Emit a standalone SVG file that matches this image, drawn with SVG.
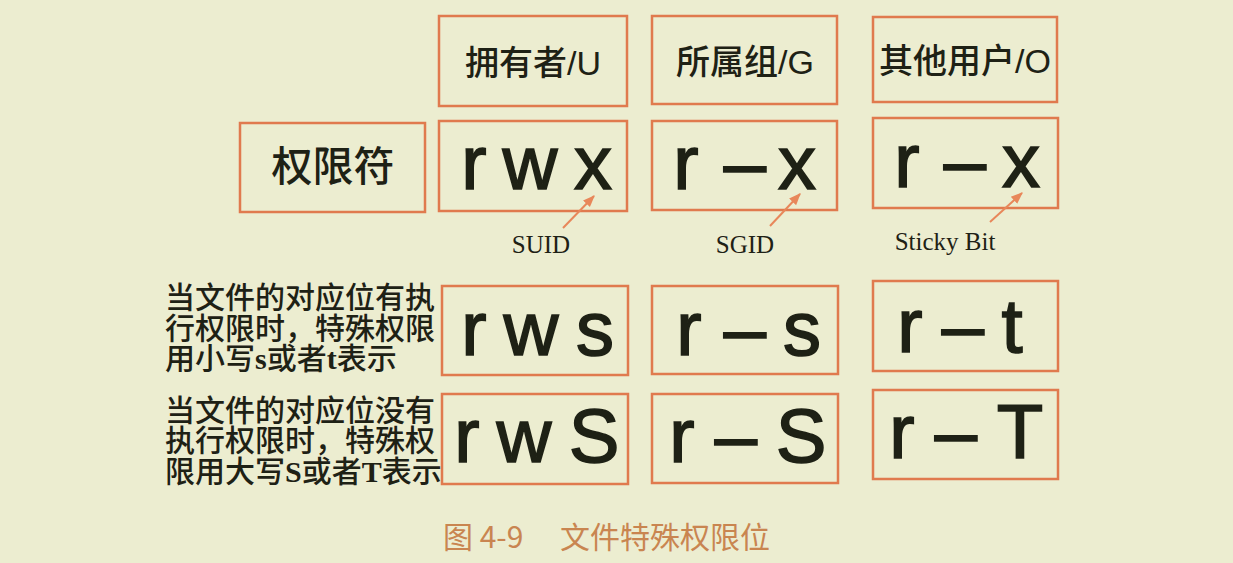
<svg xmlns="http://www.w3.org/2000/svg" width="1233" height="563" viewBox="0 0 1233 563">
<defs>
<style>
.bg{fill:#ECEDD0}
.box{fill:none;stroke:#E07A4E;stroke-width:2.5}
.hd{font-family:"Liberation Sans","Noto Sans CJK SC",sans-serif;font-size:34px;font-weight:500;fill:#1E2115;text-anchor:middle}
.big{font-family:"Liberation Sans",Arial,sans-serif;font-size:76px;fill:#1E2115;stroke:#1E2115;stroke-width:1.6;text-anchor:middle}
.lbl{font-family:"Liberation Serif","Times New Roman",serif;font-size:25px;fill:#1E2115;text-anchor:middle}
.note{font-family:"Liberation Serif","Noto Sans CJK SC",serif;font-size:30px;font-weight:500;fill:#1E2115}
.lat{font-weight:bold}
.cap{font-family:"Noto Sans CJK SC",sans-serif;font-size:30px;fill:#C98550}
.arr{stroke:#E8875A;stroke-width:2;fill:none}
</style>
<marker id="ah" viewBox="0 0 10 10" refX="9" refY="5" markerWidth="6" markerHeight="6" orient="auto">
<path d="M0,1 L10,5 L0,9 Z" fill="#E8875A"/>
</marker>
</defs>
<rect class="bg" x="0" y="0" width="1233" height="563"/>

<g id="hdr-u"><rect class="box" x="439" y="16" width="188" height="90"/><text class="hd" x="533" y="75">拥有者/U</text></g>
<g id="hdr-g"><rect class="box" x="652" y="16" width="185" height="88"/><text class="hd" x="745" y="74">所属组/G</text></g>
<g id="hdr-o"><rect class="box" x="873" y="17" width="184" height="85"/><text class="hd" x="965" y="73">其他用户/O</text></g>

<g id="perm-label"><rect class="box" x="240" y="123" width="185" height="89"/><text class="hd" style="font-size:41px" x="333" y="181">权限符</text></g>
<g id="perm-u"><rect class="box" x="439" y="121" width="188" height="90"/><text class="big" x="474 530 593" y="189">rwx</text></g>
<g id="perm-g"><rect class="box" x="652" y="121" width="185" height="89"/><text class="big" x="686 745 797" y="189">r–x</text></g>
<g id="perm-o"><rect class="box" x="873" y="118" width="185" height="90"/><text class="big" x="907 965 1021" y="187">r–x</text></g>

<g id="lbl-suid"><text class="lbl" x="541" y="253">SUID</text></g>
<g id="lbl-sgid"><text class="lbl" x="745" y="253">SGID</text></g>
<g id="lbl-sticky"><text class="lbl" x="945" y="250">Sticky Bit</text></g>

<g id="note1"><text class="note" x="165" y="308">当文件的对应位有执</text><text class="note" x="165" y="339">行权限时，特殊权限</text><text class="note" x="165" y="369">用小写<tspan class="lat">s</tspan>或者<tspan class="lat">t</tspan>表示</text></g>
<g id="lower-u"><rect class="box" x="442" y="286" width="186" height="89"/><text class="big" x="474 531 595" y="355">rws</text></g>
<g id="lower-g"><rect class="box" x="652" y="286" width="186" height="88"/><text class="big" x="689 745 802" y="355">r–s</text></g>
<g id="lower-o"><rect class="box" x="873" y="281" width="185" height="90"/><text class="big" x="910 963 1012" y="352">r–t</text></g>

<g id="note2"><text class="note" x="165" y="421">当文件的对应位没有</text><text class="note" x="165" y="451">执行权限时，特殊权</text><text class="note" x="165" y="482">限用大写<tspan class="lat">S</tspan>或者<tspan class="lat">T</tspan>表示</text></g>
<g id="upper-u"><rect class="box" x="442" y="394" width="186" height="90"/><text class="big" x="467 524 594" y="462">rwS</text></g>
<g id="upper-g"><rect class="box" x="652" y="394" width="186" height="89"/><text class="big" x="682 736 801" y="462">r–S</text></g>
<g id="upper-o"><rect class="box" x="873" y="390" width="185" height="89"/><text class="big" x="902 956 1020" y="458">r–T</text></g>

<g id="connectors">
<line class="arr" x1="563" y1="228" x2="594" y2="196" marker-end="url(#ah)"/>
<line class="arr" x1="770" y1="226" x2="800" y2="194" marker-end="url(#ah)"/>
<line class="arr" x1="990" y1="222" x2="1022" y2="193" marker-end="url(#ah)"/>
</g>

<text class="cap" x="443" y="548">图 4-9</text>
<text class="cap" x="560" y="548">文件特殊权限位</text>
</svg>
